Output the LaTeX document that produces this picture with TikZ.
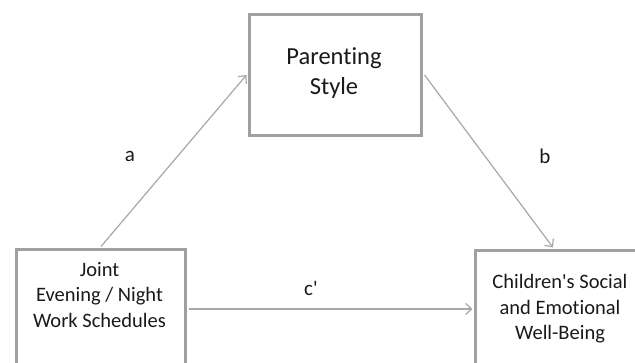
\documentclass[tikz,border=0pt]{standalone}
\usepackage{fontspec}
\setmainfont{Carlito}[Ligatures={TeXOff,NoCommon}]
\usetikzlibrary{arrows.meta}
\definecolor{boxgray}{HTML}{A0A0A0}
\definecolor{arrgray}{HTML}{A8A8A8}
\definecolor{txt}{HTML}{1A1A1A}
\begin{document}
\begin{tikzpicture}[x=1pt,y=1pt,
  box/.style={draw=boxgray,line width=3pt,fill=white,rectangle,inner sep=0pt,anchor=north west},
  conn/.style={draw=arrgray,line width=1.2pt,-{Straight Barb[length=6pt,width=11pt,line width=1.2pt]}},
  btext/.style={text=txt,align=center,font=\fontsize{20.5}{25.5}\selectfont},
  ttext/.style={text=txt,align=center,font=\fontsize{24.5}{30}\selectfont},
  lab/.style={text=txt,font=\fontsize{21}{24}\selectfont}]
\useasboundingbox (0,0) rectangle (635,363);
\clip (0,0) rectangle (635,363);
\fill[white] (0,0) rectangle (635,363);
\node[box,minimum width=172pt,minimum height=121pt] (top) at (248,350) {};
\node[box,minimum width=169pt,minimum height=140pt] (left) at (15,115) {};
\node[box,minimum width=172pt,minimum height=140pt] (right) at (474,114) {};
\node[ttext] (toptxt) at (334,290) {Parenting\\Style};
\node[btext] (lefttxt) at (99.5,68) {Joint\\Evening / Night\\Work Schedules};
\node[btext] (righttxt) at (560,54) {Children's Social\\and Emotional\\Well-Being};
\draw[conn] ([xshift=86pt,yshift=1.5pt]left.north west) -- ([xshift=-1.5pt,yshift=-62pt]top.north west);
\draw[conn] ([xshift=1.5pt,yshift=-62pt]top.north east) -- ([xshift=79pt,yshift=1.5pt]right.north west);
\draw[conn] ([xshift=1.5pt,yshift=-61pt]left.north east) -- ([xshift=-1.5pt,yshift=-60pt]right.north west);
\node[lab] (la) at (130,207) {a};
\node[lab] (lb) at (545,207) {b};
\node[lab] (lc) at (311,75) {c'};
\end{tikzpicture}
\end{document}
